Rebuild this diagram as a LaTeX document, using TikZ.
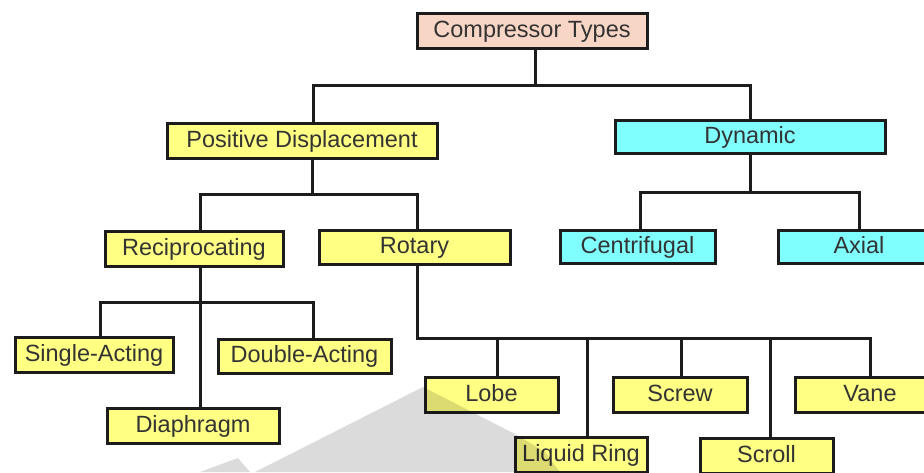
\documentclass[tikz,border=0pt]{standalone}
\usepackage{fontspec}
\setmainfont{Liberation Sans}
\begin{document}
\begin{tikzpicture}[x=1pt,y=-1pt,
  box/.style={draw=boxline, line width=3pt, rectangle, inner sep=0pt,
    text=txt, font=\fontsize{23.5}{26}\selectfont, text height=17pt, text depth=4pt},
  ybox/.style={box, fill=ylw},
  cbox/.style={box, fill=cyn},
  pbox/.style={box, fill=pnk},
  conn/.style={draw=boxline, line width=3pt}]
\definecolor{boxline}{HTML}{1C1C1C}
\definecolor{txt}{HTML}{333333}
\definecolor{ylw}{HTML}{FFFF84}
\definecolor{cyn}{HTML}{80FFFF}
\definecolor{pnk}{HTML}{F7D6C6}
\clip (0,0) rectangle (924,472);
\fill[white] (0,0) rectangle (924,472);

% boxes
\node[pbox, minimum width=230pt, minimum height=35pt] (top) at (532,30.5) {Compressor Types};
\node[ybox, minimum width=270pt, minimum height=35pt] (pd) at (302,140.5) {Positive Displacement};
\node[cbox, minimum width=270pt, minimum height=33pt] (dyn) at (750,136.5) {Dynamic};
\node[ybox, minimum width=178pt, minimum height=35pt] (recip) at (194,248.5) {Reciprocating};
\node[ybox, minimum width=191pt, minimum height=34pt] (rot) at (414.5,247) {Rotary};
\node[cbox, minimum width=155pt, minimum height=33pt] (cent) at (637.5,246.5) {Centrifugal};
\node[cbox, minimum width=162pt, minimum height=33pt] (axial) at (859,246.5) {Axial};
\node[ybox, minimum width=158pt, minimum height=35pt] (single) at (94,354.5) {Single-Acting};
\node[ybox, minimum width=173pt, minimum height=34pt] (double) at (304.5,356) {Double-Acting};
\node[ybox, minimum width=172pt, minimum height=35pt] (diaph) at (193,425.5) {Diaphragm};
\node[ybox, minimum width=133pt, minimum height=35pt] (lobe) at (491.5,394.5) {Lobe};
\node[ybox, minimum width=134pt, minimum height=35pt] (screw) at (680,394.5) {Screw};
\node[ybox, minimum width=150pt, minimum height=35pt] (vane) at (870,394.5) {Vane};
\node[ybox, minimum width=132pt, minimum height=35pt] (liquid) at (581,454.5) {Liquid Ring};
\node[ybox, minimum width=133pt, minimum height=35pt] (scroll) at (766.5,455.5) {Scroll};

% connectors
\coordinate (b1) at (0,85);
\draw[conn] ([xshift=3pt]top.south) -- ([xshift=3pt]top.south |- b1) -| ([xshift=11pt]pd.north);
\draw[conn] ([xshift=3pt]top.south |- b1) -| (dyn.north);

\coordinate (b2) at (0,194);
\draw[conn] ([xshift=10pt]pd.south) -- ([xshift=10pt]pd.south |- b2) -| ([xshift=6pt]recip.north);
\draw[conn] ([xshift=10pt]pd.south |- b2) -| ([xshift=2.5pt]rot.north);

\coordinate (b3) at (0,192);
\draw[conn] (dyn.south) -- (dyn.south |- b3) -| ([xshift=2.5pt]cent.north);
\draw[conn] (dyn.south |- b3) -| (axial.north);

\coordinate (b4) at (0,302);
\draw[conn] ([xshift=6pt]recip.south) -- ([xshift=7pt]diaph.north);
\draw[conn] ([xshift=6pt]recip.south |- b4) -| ([xshift=6pt]single.north);
\draw[conn] ([xshift=6pt]recip.south |- b4) -| ([xshift=8.5pt]double.north);

\coordinate (b5) at (0,338);
\draw[conn] ([xshift=2.5pt]rot.south) -- ([xshift=2.5pt]rot.south |- b5) -| (vane.north);
\draw[conn] ([xshift=5.5pt]lobe.north) -- ([xshift=5.5pt]lobe.north |- b5);
\draw[conn] ([xshift=6pt]liquid.north) -- ([xshift=6pt]liquid.north |- b5);
\draw[conn] ([xshift=1pt]screw.north) -- ([xshift=1pt]screw.north |- b5);
\draw[conn] ([xshift=3.5pt]scroll.north) -- ([xshift=3.5pt]scroll.north |- b5);

% faint watermark
\fill[black, opacity=0.14] (423,387) -- (515,434) -- (545,452) -- (560,472) -- (255,472) -- cycle;
\fill[black, opacity=0.14] (200,472) -- (238,458) -- (250,472) -- cycle;
\end{tikzpicture}
\end{document}
